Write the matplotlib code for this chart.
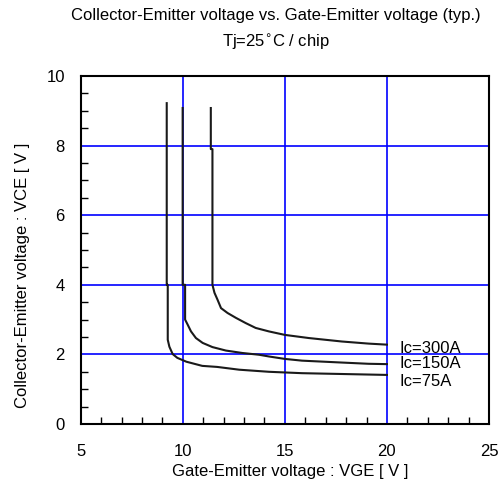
import matplotlib
matplotlib.use("Agg")
import matplotlib.pyplot as plt
from matplotlib.ticker import MultipleLocator

plt.rcParams['font.family'] = ['Liberation Sans', 'DejaVu Sans']

# VGE [V] / VCE [V] curves per collector current
vge_75 = [9.21, 9.21, 9.26, 9.26, 9.34, 9.50, 9.73, 10.17, 10.95, 11.68, 12.76, 14.22, 15.84, 20.0]
vce_75 = [9.22, 4.00, 4.00, 2.42, 2.22, 2.01, 1.90, 1.79, 1.67, 1.64, 1.56, 1.50, 1.46, 1.41]

vge_150 = [9.99, 9.99, 10.11, 10.11, 10.24, 10.40, 10.64, 10.97, 11.45, 12.11, 12.92, 13.73, 14.22, 15.0, 15.84, 17.63, 19.1, 20.0]
vce_150 = [9.08, 4.00, 4.00, 3.00, 2.85, 2.66, 2.47, 2.33, 2.21, 2.11, 2.04, 1.99, 1.94, 1.87, 1.82, 1.77, 1.73, 1.72]

vge_300 = [11.37, 11.37, 11.45, 11.45, 11.55, 11.70, 11.87, 12.19, 12.60, 13.08, 13.57, 14.22, 15.0, 16.17, 17.8, 19.1, 20.0]
vce_300 = [9.08, 7.90, 7.90, 4.00, 3.77, 3.57, 3.33, 3.19, 3.05, 2.90, 2.76, 2.66, 2.56, 2.47, 2.37, 2.31, 2.28]

curve_labels = ["Ic=300A", "Ic=150A", "Ic=75A"]
label_vce = [2.17, 1.73, 1.21]

x_ticks = [5, 10, 15, 20, 25]
y_ticks = [0, 2, 4, 6, 8, 10]

fig = plt.figure(figsize=(5.02, 4.86), dpi=100)
ax = fig.add_axes([0.161, 0.1276, 0.813, 0.716])

for x, y in [(vge_75, vce_75), (vge_150, vce_150), (vge_300, vce_300)]:
    ax.plot(x, y, color='#1a1a1a', linewidth=1.5, zorder=3)

ax.set_xlim(5, 25)
ax.set_ylim(0, 10)
ax.set_xticks(x_ticks)
ax.set_yticks(y_ticks)
ax.xaxis.set_minor_locator(MultipleLocator(1))
ax.yaxis.set_minor_locator(MultipleLocator(0.5))
ax.tick_params(which='both', direction='in', top=False, right=False, labelsize=12)
ax.tick_params(axis='x', which='major', length=0, pad=14.5)
ax.tick_params(axis='y', which='major', length=0, pad=11.5)
ax.tick_params(which='minor', length=5, width=1.0, color='black')
ax.grid(True, which='major', color='#0000ff', linewidth=1.2, zorder=1)
for s in ax.spines.values():
    s.set_linewidth(1.5)
    s.set_color('black')

for text, yv in zip(curve_labels, label_vce):
    ax.text(20.6, yv, text, fontsize=12, va='center', ha='left')

ax.set_xlabel("Gate-Emitter voltage : VGE [ V ]", fontsize=12, labelpad=5)
ax.xaxis.set_label_coords(0.513, -0.115)
ax.set_ylabel("Collector-Emitter voltage : VCE [ V ]", fontsize=12)
ax.yaxis.set_label_coords(-0.125, 0.427)

fig.text(0.55, 0.969, "Collector-Emitter voltage vs. Gate-Emitter voltage (typ.)",
         ha='center', va='center', fontsize=12)
fig.text(0.55, 0.913, "Tj=25$^{\\circ}$C / chip", ha='center', va='center', fontsize=12)

fig.savefig("out.png", dpi=100)
